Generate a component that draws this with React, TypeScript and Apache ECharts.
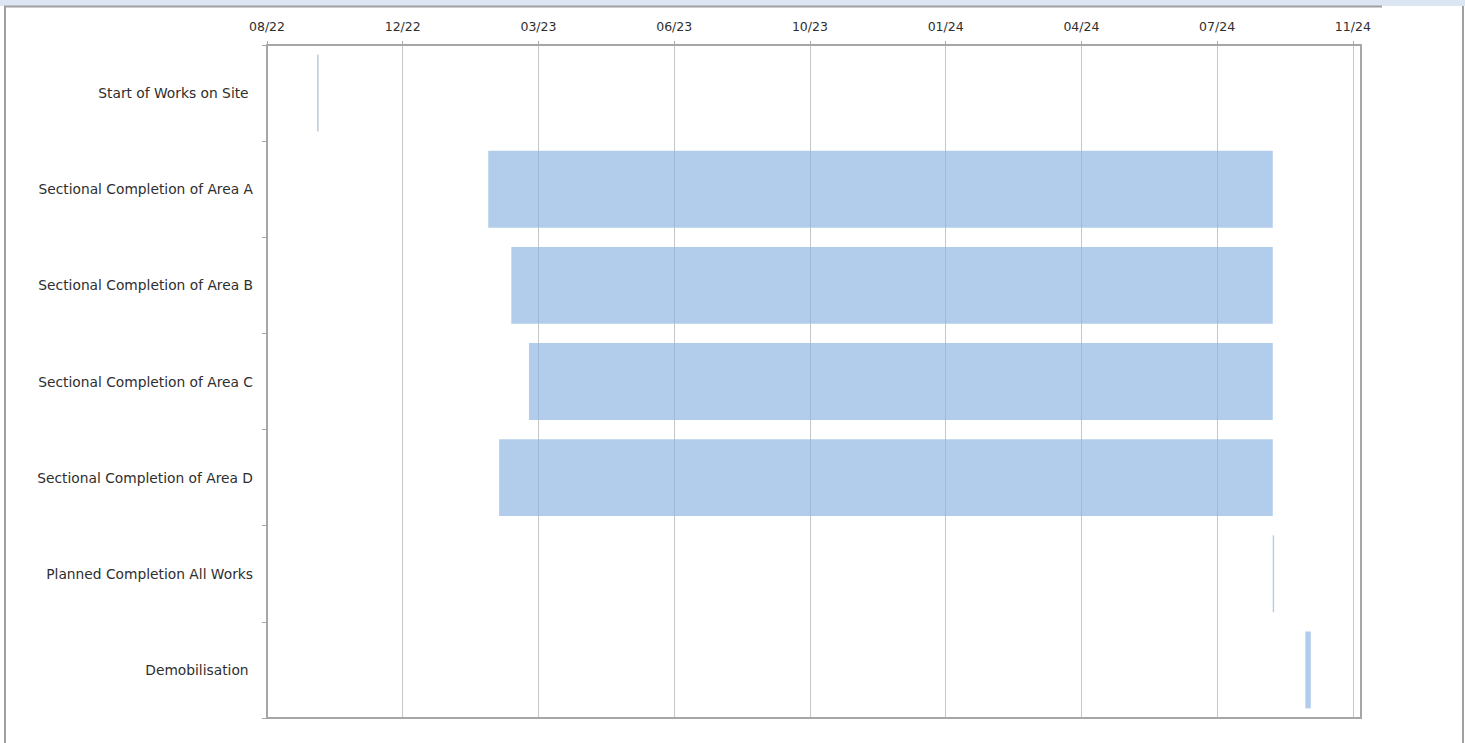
import React, { useEffect, useRef } from "react";
import * as echarts from "echarts";

// Axis origin (day 0 of the date axis) and its end
const axisStartDate = "2022-08-29";
const axisEndDate = "2024-11-12";
const tickStepDays = 100;

const categories = [
  "Start of Works on Site ",
  "Sectional Completion of Area A",
  "Sectional Completion of Area B",
  "Sectional Completion of Area C",
  "Sectional Completion of Area D",
  "Planned Completion All Works",
  "Demobilisation ",
];

const startDates = [
  "2022-10-05",
  "2023-02-08",
  "2023-02-25",
  "2023-03-10",
  "2023-02-16",
  "2024-09-08",
  "2024-10-02",
];

const endDates = [
  "2022-10-06",
  "2024-09-08",
  "2024-09-08",
  "2024-09-08",
  "2024-09-08",
  "2024-09-09",
  "2024-10-06",
];

const DAY = 86400000;
const toMs = (s: string) => {
  const [y, m, d] = s.split("-").map(Number);
  return Date.UTC(y, m - 1, d);
};
const originMs = toMs(axisStartDate);
const dayOf = (s: string) => Math.round((toMs(s) - originMs) / DAY);

export default function App() {
  const ref = useRef<HTMLDivElement>(null);

  useEffect(() => {
    document.body.style.margin = "0";
    if (!ref.current) return;
    const chart = echarts.init(ref.current, undefined, { renderer: "svg" });

    const starts = startDates.map(dayOf);
    const durations = endDates.map((e, i) => dayOf(e) - starts[i]);
    const maxDay = dayOf(axisEndDate);

    const fmt = (v: number) => {
      if (Math.round(v) % tickStepDays !== 0) return "";
      const d = new Date(originMs + v * DAY);
      const mm = String(d.getUTCMonth() + 1).padStart(2, "0");
      const yy = String(d.getUTCFullYear() % 100).padStart(2, "0");
      return `${mm}/${yy}`;
    };

    const font = "'DejaVu Sans', sans-serif";
    const axisGrey = "#a6a6a6";

    chart.setOption({
      animation: false,
      backgroundColor: "#ffffff",
      grid: { left: 267, right: 104, top: 45, bottom: 25, containLabel: false },
      xAxis: [
        {
          type: "value",
          position: "top",
          min: 0,
          max: maxDay,
          interval: tickStepDays,
          axisLine: { show: true, lineStyle: { color: axisGrey, width: 2 } },
          axisTick: { show: true, length: 4, lineStyle: { color: axisGrey } },
          axisLabel: {
            formatter: fmt,
            fontFamily: font,
            fontSize: 12.5,
            color: "#2e2e2e",
            margin: 12,
            showMaxLabel: false,
          },
          splitLine: { show: true, lineStyle: { color: "#c6c6c6", width: 1 } },
        },
        {
          type: "value",
          position: "bottom",
          min: 0,
          max: maxDay,
          axisLine: { show: true, onZero: false, lineStyle: { color: axisGrey, width: 2 } },
          axisTick: { show: false },
          axisLabel: { show: false },
          splitLine: { show: false },
        },
      ],
      yAxis: [
        {
          type: "category",
          inverse: true,
          data: categories,
          axisLine: { show: true, onZero: false, lineStyle: { color: axisGrey, width: 2 } },
          axisTick: { show: true, length: 5, lineStyle: { color: axisGrey } },
          axisLabel: {
            fontFamily: font,
            fontSize: 13.8,
            color: "#2e2e2e",
            margin: 14,
          },
          splitLine: { show: false },
        },
        {
          type: "category",
          position: "right",
          inverse: true,
          data: categories,
          axisLine: { show: true, onZero: false, lineStyle: { color: axisGrey, width: 2 } },
          axisTick: { show: false },
          axisLabel: { show: false },
          splitLine: { show: false },
        },
      ],
      series: [
        {
          type: "bar",
          name: "Start",
          stack: "gantt",
          barCategoryGap: "20%",
          itemStyle: { color: "transparent" },
          emphasis: { disabled: true },
          data: starts,
          xAxisIndex: 0,
          yAxisIndex: 0,
        },
        {
          type: "bar",
          name: "Duration",
          stack: "gantt",
          barCategoryGap: "20%",
          xAxisIndex: 0,
          yAxisIndex: 0,
          itemStyle: { color: "rgba(141,182,226,0.68)" },
          data: durations.map((v, i) =>
            i === 0
              ? { value: v, itemStyle: { color: "rgba(110,135,180,0.5)" } }
              : v
          ),
        },
      ],
      graphic: [
        {
          type: "rect",
          shape: { x: 0, y: 0, width: 1465, height: 6 },
          style: { fill: "#dce6f2" },
          silent: true,
        },
        {
          type: "line",
          shape: { x1: 4, y1: 6.5, x2: 1382, y2: 6.5 },
          style: { stroke: "#a0a0a0", lineWidth: 2 },
          silent: true,
        },
        {
          type: "line",
          shape: { x1: 5, y1: 6, x2: 5, y2: 743 },
          style: { stroke: "#a0a0a0", lineWidth: 2 },
          silent: true,
        },
        {
          type: "line",
          shape: { x1: 1463, y1: 6, x2: 1463, y2: 743 },
          style: { stroke: "#a0a0a0", lineWidth: 2 },
          silent: true,
        },
      ],
    });

    return () => chart.dispose();
  }, []);

  return <div ref={ref} style={{ width: 1465, height: 743 }} />;
}
